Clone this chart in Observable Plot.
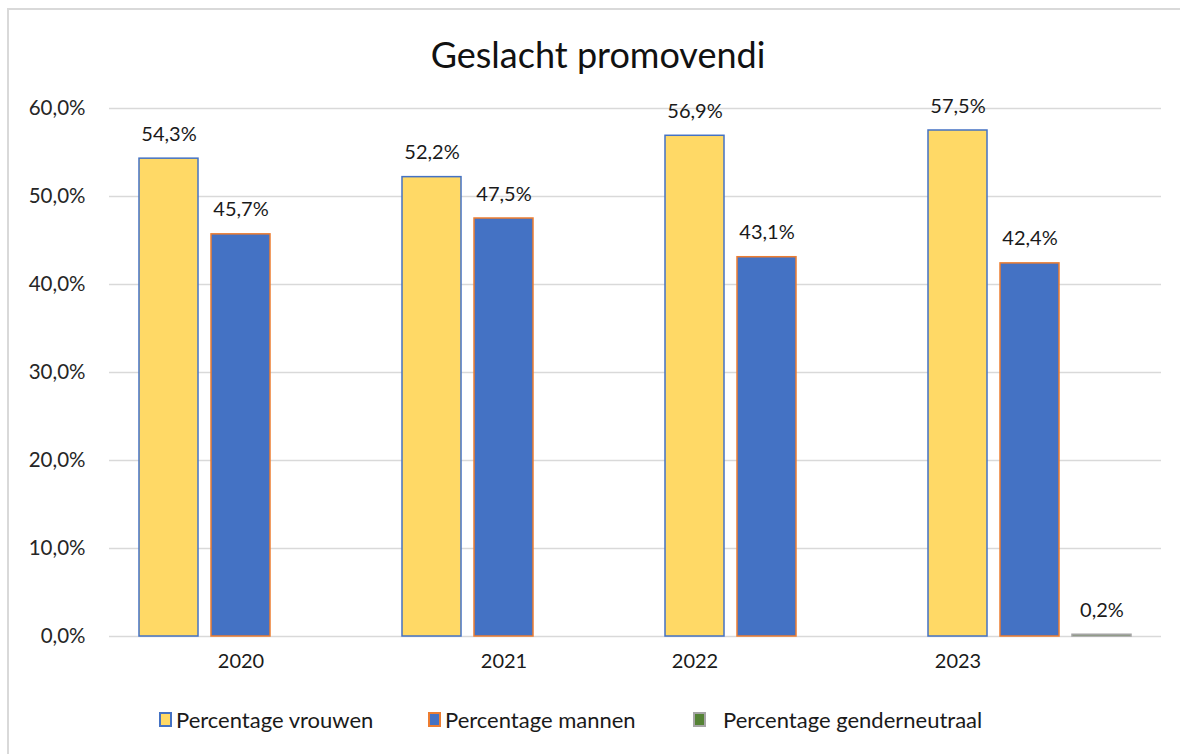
<!DOCTYPE html>
<html>
<head>
<meta charset="utf-8">
<script src="https://cdn.jsdelivr.net/npm/d3@7"></script>
<script src="https://cdn.jsdelivr.net/npm/@observablehq/plot@0.6"></script>
<style>
  html, body { margin: 0; padding: 0; background: #fff; }
  #wrap { position: relative; width: 1180px; height: 754px; overflow: hidden; font-family: Lato, "Open Sans", sans-serif; }
  #frame { position: absolute; left: 7px; top: 8px; width: 1300px; height: 900px; border-left: 2px solid #d9d9d9; border-top: 2px solid #d9d9d9; }
  #title { position: absolute; left: 0; width: 1196px; top: 32px; text-align: center; font-size: 36px; font-weight: 400; color: #111; }
  #chart { position: absolute; left: 0; top: 80px; }
  #legend { position: absolute; top: 706px; left: 0; width: 1180px; height: 26px; font-size: 22px; color: #1a1a1a; }
  .li { position: absolute; top: 0; white-space: nowrap; display: flex; align-items: center; height: 26px; }
  .sw { display: inline-block; width: 9px; height: 11px; border: 2px solid; margin-right: 4px; }
</style>
</head>
<body>
<div id="wrap">
  <div id="frame"></div>
  <div id="title">Geslacht promovendi</div>
  <div id="chart"></div>
  <div id="legend"></div>
</div>
<script>
// ---- data ----
const years = ["2020", "2021", "2022", "2023"];
const series = ["Percentage vrouwen", "Percentage mannen", "Percentage genderneutraal"];
const vrouwen = [0.543, 0.522, 0.569, 0.575];
const mannen = [0.457, 0.475, 0.431, 0.424];
const genderneutraal = [null, null, null, 0.002];
const yTicks = [0, 0.1, 0.2, 0.3, 0.4, 0.5, 0.6];
// x-axis year labels in the original sit under these series' slots
const yearLabelSlot = ["Percentage mannen", "Percentage mannen", "Percentage vrouwen", "Percentage vrouwen"];

const fills = { "Percentage vrouwen": "#FFD966", "Percentage mannen": "#4472C4", "Percentage genderneutraal": "#548235" };
const strokes = { "Percentage vrouwen": "#4472C4", "Percentage mannen": "#ED7D31", "Percentage genderneutraal": "#A5A5A5" };
const legendX = [159, 428, 693];

const nl = d3.formatLocale({ decimal: ",", thousands: ".", grouping: [3], currency: ["€", ""] });
const pct = nl.format(".1%");

const rows = [];
[vrouwen, mannen, genderneutraal].forEach((vals, si) => {
  vals.forEach((v, yi) => {
    if (v != null) rows.push({ year: years[yi], series: series[si], value: v });
  });
});
const yearLabels = years.map((y, i) => ({ year: y, slot: yearLabelSlot[i] }));

const chart = Plot.plot({
  width: 1180,
  height: 606,
  marginTop: 28,
  marginBottom: 50,
  marginLeft: 108,
  marginRight: 18,
  style: { fontFamily: "Lato, 'Open Sans', sans-serif", overflow: "visible" },
  fx: { domain: years, padding: 0, axis: null },
  x: { domain: series, paddingInner: 0.18, paddingOuter: 0.4, axis: null },
  y: { domain: [0, 0.6], axis: null },
  marks: [
    Plot.ruleY(yTicks, { stroke: "#d9d9d9", strokeWidth: 1.5 }),
    Plot.axisY({ ticks: yTicks, tickFormat: pct, tickSize: 0, tickPadding: 24, fontSize: 20.5, color: "#262626", label: null }),
    Plot.barY(rows, {
      fx: "year", x: "series", y: "value",
      fill: d => fills[d.series], stroke: d => strokes[d.series], strokeWidth: 1.5
    }),
    Plot.text(rows, {
      fx: "year", x: "series", y: "value",
      text: d => pct(d.value), lineAnchor: "bottom", dy: -18,
      fontSize: 20, fill: "#1a1a1a"
    }),
    Plot.text(yearLabels, {
      fx: "year", x: "slot", text: "year", frameAnchor: "bottom", dy: 31,
      fontSize: 20, fill: "#1a1a1a"
    })
  ]
});
document.getElementById("chart").appendChild(chart);

const legend = document.getElementById("legend");
series.forEach((s, i) => {
  const item = document.createElement("div");
  item.className = "li";
  item.style.left = legendX[i] + "px";
  const sw = document.createElement("span");
  sw.className = "sw";
  sw.style.background = fills[s];
  sw.style.borderColor = strokes[s];
  if (i === 2) sw.style.marginRight = "17px";
  item.appendChild(sw);
  item.appendChild(document.createTextNode(s));
  legend.appendChild(item);
});
</script>
</body>
</html>
